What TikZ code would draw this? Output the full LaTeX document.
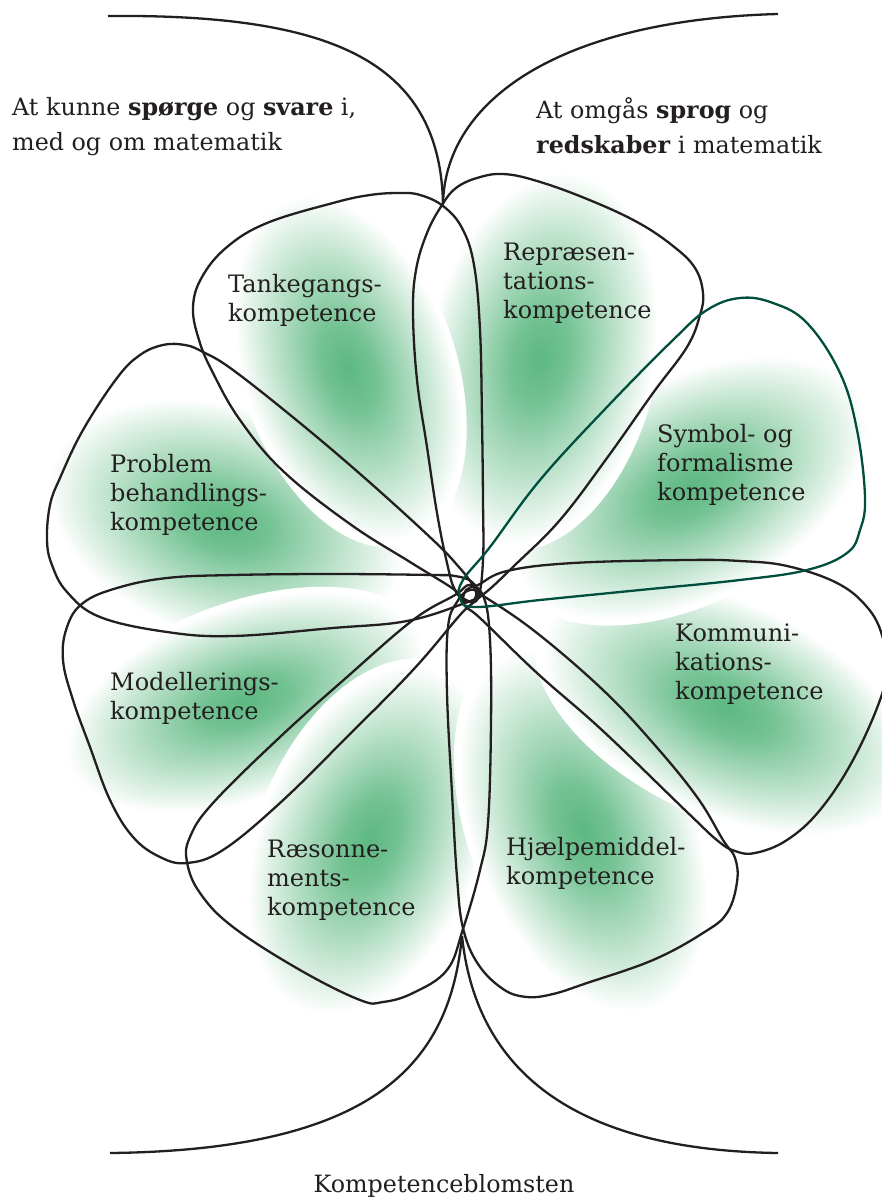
\documentclass[tikz,border=0pt]{standalone}
\usepackage{tikz}
\usepackage{fontspec}
\setmainfont{DejaVu Serif}
\definecolor{ink}{RGB}{35,31,32}
\definecolor{gcore}{RGB}{92,184,128}
\definecolor{symline}{RGB}{0,78,62}
\pgfdeclareradialshading{blob}{\pgfpointorigin}{color(0bp)=(gcore); color(6bp)=(gcore!85!white); color(14bp)=(gcore!48!white); color(20bp)=(gcore!20!white); color(24bp)=(white); color(50bp)=(white)}
\newcommand\greenblob[5]{%
  \begin{scope}[transform canvas={shift={(#1,#2)},rotate=#3}]
    \shade[shading=blob] (0,0) ellipse ({#4} and {#5});
  \end{scope}}
\tikzset{
  petal/.style={draw=ink, line width=2.3pt, line join=round},
  symbolpetal/.style={draw=symline, line width=2.3pt, line join=round},
  framecurve/.style={draw=ink, line width=2.3pt},
  lab/.style={anchor=north west, inner sep=0pt, align=left, text=ink, font=\fontsize{24}{29}\selectfont},
  toptext/.style={anchor=north west, inner sep=0pt, align=left, text=ink, font=\fontsize{23.8}{35}\selectfont},
}
\begin{document}
\begin{tikzpicture}[x=1pt,y=-1pt]
\useasboundingbox[fill=white] (0,0) rectangle (881,1198);

% soft green areas
\greenblob{225}{522}{162}{190}{120}
\greenblob{245}{702}{-160}{195}{100}
\greenblob{370}{840}{-112}{190}{114}
\greenblob{583}{830}{-68}{198}{114}
\greenblob{726}{708}{-25}{205}{110}
\greenblob{690}{488}{28}{200}{114}
\greenblob{540}{358}{78}{196}{118}
\greenblob{348}{368}{109}{186}{108}

% petals
\draw[petal] plot[smooth cycle, tension=0.65] coordinates {
 (483,560) (483,500) (482,420) (480,330) (474,265) (462,228) (443,206) (420,195)
 (400,193) (370,195) (333,203) (267,223) (227,247) (202,277) (193,307) (199,340)
 (213,373) (240,420) (283,471) (350,524) (410,562) (452,588) (466,600) (478,598)};
\draw[petal] plot[smooth cycle, tension=0.65] coordinates {
 (447,563) (437,513) (427,447) (417,380) (413,313) (416,270) (427,233) (442,205)
 (456,188) (477,178) (503,174) (537,181) (587,199) (637,222) (673,246) (695,268)
 (703,293) (700,315) (687,347) (653,393) (607,458) (560,520) (515,565) (485,593)
 (468,602) (455,590)};
\draw[petal] plot[smooth cycle, tension=0.65] coordinates {
 (478,585) (507,571) (573,563) (687,560) (740,561) (787,566) (837,583) (867,607)
 (882,635) (886,668) (880,700) (853,760) (820,810) (787,840) (755,853) (735,851)
 (718,841) (687,812) (603,731) (537,673) (480,618) (464,605) (466,590)};
\draw[petal] plot[smooth cycle, tension=0.65] coordinates {
 (448,627) (447,693) (452,793) (457,877) (463,928) (478,964) (503,989) (527,997)
 (553,994) (587,983) (653,960) (703,933) (727,913) (737,882) (735,858) (723,840)
 (697,797) (653,743) (603,690) (537,633) (485,597) (470,590) (457,602)};
\draw[petal] plot[smooth cycle, tension=0.65] coordinates {
 (490,640) (491,723) (488,823) (480,870) (463,929) (447,970) (413,993) (383,1002)
 (360,1000) (300,970) (233,927) (200,893) (187,862) (190,837) (213,803) (280,737)
 (347,677) (413,620) (455,595) (470,585) (484,598)};
\draw[petal] plot[smooth cycle, tension=0.65] coordinates {
 (433,575) (333,574) (233,575) (167,578) (117,588) (83,603) (67,627) (63,660)
 (73,700) (90,747) (110,800) (133,837) (160,857) (187,863) (223,850) (280,803)
 (347,737) (413,670) (460,615) (478,597) (472,582) (455,576)};
\draw[petal] plot[smooth cycle, tension=0.65] coordinates {
 (465,603) (407,621) (333,628) (233,636) (167,632) (100,617) (67,592) (52,565)
 (47,540) (50,505) (60,478) (83,430) (117,378) (140,355) (163,345) (185,345)
 (203,352) (233,370) (300,423) (367,480) (433,540) (458,566) (472,584) (476,596)};
\draw[symbolpetal] plot[smooth cycle, tension=0.65] coordinates {
 (463,580) (490,547) (540,480) (607,407) (673,340) (707,310) (740,298) (773,303)
 (807,323) (840,373) (857,430) (865,497) (860,530) (847,553) (807,570) (740,580)
 (640,590) (540,600) (475,607) (460,598)};

% frame curves
\coordinate (topjoin) at (443,204);
\coordinate (botjoin) at (462,936);
\coordinate (tl) at (108,16);
\coordinate (tr) at (778,14);
\coordinate (bl) at (110,1153);
\coordinate (br) at (778,1153);
\draw[framecurve] (tl) .. controls (330,14) and (440,60) .. (topjoin);
\draw[framecurve] (topjoin) .. controls (445,100) and (560,20) .. (tr);
\draw[framecurve] (botjoin) .. controls (450,1060) and (380,1150) .. (bl);
\draw[framecurve] (botjoin) .. controls (475,1060) and (560,1150) .. (br);

% texts
\node[toptext] (asknode) at (12,97) {At kunne \textbf{spørge} og \textbf{svare} i,\\med og om matematik};
\node[toptext] (toolnode) at (536,97) {At omgås \textbf{sprog} og\\\textbf{redskaber} i matematik};

\node[lab] (tank) at (228,274) {Tankegangs-\\kompetence};
\node[lab] (repr) at (503,243) {Repræsen-\\tations-\\kompetence};
\node[lab] (symb) at (657,424) {Symbol- og\\formalisme\\kompetence};
\node[lab] (prob) at (110,454) {Problem\\behandlings-\\kompetence};
\node[lab] (mode) at (110,672) {Modellerings-\\kompetence};
\node[lab] (raes) at (267,840) {Ræsonne-\\ments-\\kompetence};
\node[lab] (komm) at (675,624) {Kommuni-\\kations-\\kompetence};
\node[lab] (hjae) at (506,837) {Hjælpemiddel-\\kompetence};

\node[anchor=base, inner sep=0pt, text=ink, font=\fontsize{23.8}{29}\selectfont] (caption) at (444,1192) {Kompetenceblomsten};
\end{tikzpicture}
\end{document}
